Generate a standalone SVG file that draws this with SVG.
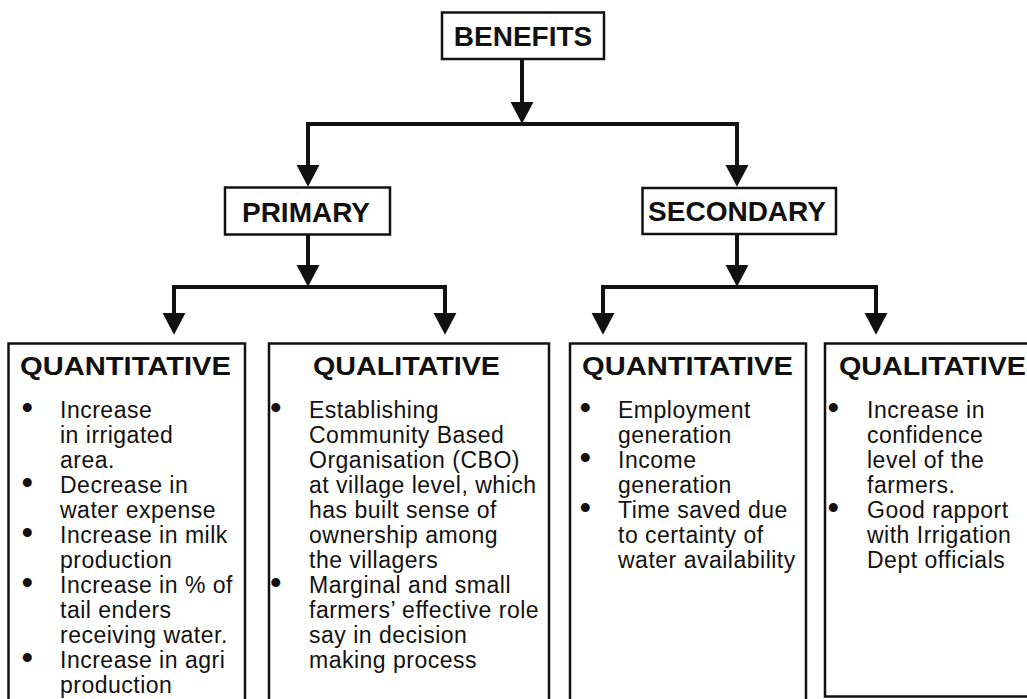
<svg xmlns="http://www.w3.org/2000/svg" width="1027" height="699" viewBox="0 0 1027 699">
<style>
.box{fill:#fff;stroke:#111;stroke-width:2.5}
.hd{font-family:"Liberation Sans",Arial,sans-serif;font-weight:bold;font-size:28px;fill:#111;text-anchor:middle}
.tt{font-family:"Liberation Sans",Arial,sans-serif;font-weight:bold;font-size:26.5px;fill:#111}
.bd{font-family:"Liberation Sans",Arial,sans-serif;font-size:23px;fill:#111;letter-spacing:0.5px}
.bl{font-family:"Liberation Sans",Arial,sans-serif;font-size:33px;fill:#111}
.cn{fill:none;stroke:#111;stroke-width:4;stroke-linejoin:miter}
</style>
<defs>
<marker id="ah" markerUnits="userSpaceOnUse" markerWidth="22" markerHeight="24" viewBox="0 -11 20 22" refX="0" refY="0" orient="auto-start-reverse">
<path d="M0,-10.5 L20,0 L0,10.5 Z" fill="#111"/>
</marker>
</defs>
<rect width="1027" height="699" fill="#fff"/>
<g id="connectors">
<path class="cn" d="M522,59 V102" marker-end="url(#ah)"/>
<path class="cn" d="M308,165 V124 H737 V165" marker-start="url(#ah)" marker-end="url(#ah)"/>
<path class="cn" d="M308,235 V265" marker-end="url(#ah)"/>
<path class="cn" d="M174,313 V287 H445 V313" marker-start="url(#ah)" marker-end="url(#ah)"/>
<path class="cn" d="M737,234 V265" marker-end="url(#ah)"/>
<path class="cn" d="M603,313 V287 H876 V313" marker-start="url(#ah)" marker-end="url(#ah)"/>
</g>
<g id="benefits">
<rect class="box" x="442" y="12.5" width="162" height="46.5"/>
<text class="hd" x="523" y="46">BENEFITS</text>
</g>
<g id="primary">
<rect class="box" x="225" y="187.5" width="165" height="47"/>
<text class="hd" x="306" y="222">PRIMARY</text>
</g>
<g id="secondary">
<rect class="box" x="642.5" y="188" width="193.5" height="46"/>
<text class="hd" x="737" y="220.5">SECONDARY</text>
</g>
<g id="primary-quantitative">
<rect class="box" x="8.5" y="343.5" width="236.5" height="370"/>
<text class="tt" x="20" y="375" textLength="211" lengthAdjust="spacingAndGlyphs">QUANTITATIVE</text>
<text class="bl">
<tspan x="21.5" y="418.5">•</tspan>
<tspan x="21.5" y="493.5">•</tspan>
<tspan x="21.5" y="543.5">•</tspan>
<tspan x="21.5" y="593.5">•</tspan>
<tspan x="21.5" y="668.5">•</tspan>
</text>
<text class="bd">
<tspan x="60" y="417.5">Increase</tspan>
<tspan x="60" y="442.5">in irrigated</tspan>
<tspan x="60" y="467.5">area.</tspan>
<tspan x="60" y="492.5">Decrease in</tspan>
<tspan x="60" y="517.5">water expense</tspan>
<tspan x="60" y="542.5">Increase in milk</tspan>
<tspan x="60" y="567.5">production</tspan>
<tspan x="60" y="592.5">Increase in % of</tspan>
<tspan x="60" y="617.5">tail enders</tspan>
<tspan x="60" y="642.5">receiving water.</tspan>
<tspan x="60" y="667.5">Increase in agri</tspan>
<tspan x="60" y="692.5">production</tspan>
</text>
</g>
<g id="primary-qualitative">
<rect class="box" x="269" y="343.5" width="280" height="370"/>
<text class="tt" x="313" y="375" textLength="187" lengthAdjust="spacingAndGlyphs">QUALITATIVE</text>
<text class="bl">
<tspan x="270" y="418.5">•</tspan>
<tspan x="270" y="593.5">•</tspan>
</text>
<text class="bd">
<tspan x="309" y="417.5">Establishing</tspan>
<tspan x="309" y="442.5">Community Based</tspan>
<tspan x="309" y="467.5">Organisation (CBO)</tspan>
<tspan x="309" y="492.5">at village level, which</tspan>
<tspan x="309" y="517.5">has built sense of</tspan>
<tspan x="309" y="542.5">ownership among</tspan>
<tspan x="309" y="567.5">the villagers</tspan>
<tspan x="309" y="592.5">Marginal and small</tspan>
<tspan x="309" y="617.5">farmers’ effective role</tspan>
<tspan x="309" y="642.5">say in decision</tspan>
<tspan x="309" y="667.5">making process</tspan>
</text>
</g>
<g id="secondary-quantitative">
<rect class="box" x="570" y="343.5" width="236" height="370"/>
<text class="tt" x="582" y="375" textLength="211" lengthAdjust="spacingAndGlyphs">QUANTITATIVE</text>
<text class="bl">
<tspan x="579.5" y="418.5">•</tspan>
<tspan x="579.5" y="468.5">•</tspan>
<tspan x="579.5" y="518.5">•</tspan>
</text>
<text class="bd">
<tspan x="618" y="417.5">Employment</tspan>
<tspan x="618" y="442.5">generation</tspan>
<tspan x="618" y="467.5">Income</tspan>
<tspan x="618" y="492.5">generation</tspan>
<tspan x="618" y="517.5">Time saved due</tspan>
<tspan x="618" y="542.5">to certainty of</tspan>
<tspan x="618" y="567.5">water availability</tspan>
</text>
</g>
<g id="secondary-qualitative">
<rect class="box" x="825" y="343.5" width="220" height="353"/>
<text class="tt" x="839" y="375" textLength="187" lengthAdjust="spacingAndGlyphs">QUALITATIVE</text>
<text class="bl">
<tspan x="827.5" y="418.5">•</tspan>
<tspan x="827.5" y="518.5">•</tspan>
</text>
<text class="bd">
<tspan x="867" y="417.5">Increase in</tspan>
<tspan x="867" y="442.5">confidence</tspan>
<tspan x="867" y="467.5">level of the</tspan>
<tspan x="867" y="492.5">farmers.</tspan>
<tspan x="867" y="517.5">Good rapport</tspan>
<tspan x="867" y="542.5">with Irrigation</tspan>
<tspan x="867" y="567.5">Dept officials</tspan>
</text>
</g>
</svg>
